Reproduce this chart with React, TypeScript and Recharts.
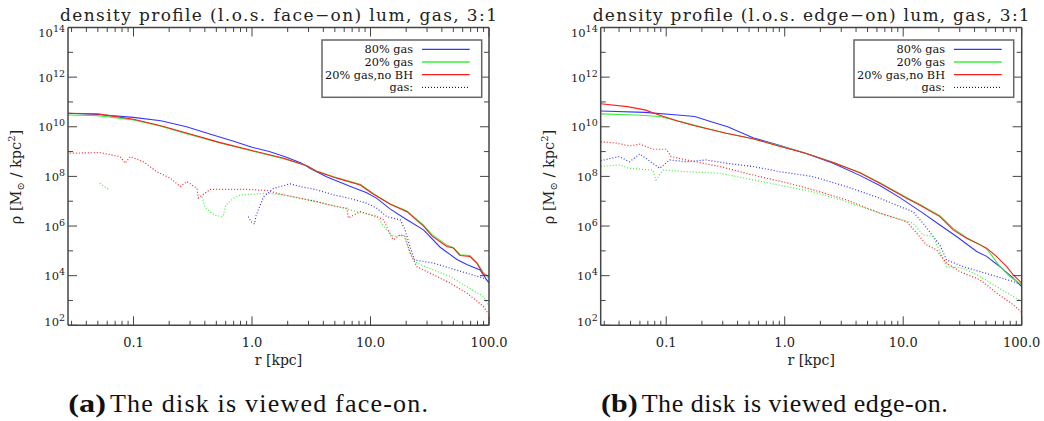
import React from 'react';
import { LineChart, Line, XAxis, YAxis, Legend } from 'recharts';

type P = [number, number | null];

// ---------- colours / fonts ----------
const BLUE = '#3535ff';
const GREEN = '#3cf03c';
const RED = '#ff1e1e';
const AXIS = '#454545';
const FONT = '"DejaVu Serif", serif';
const CAPFONT = '"Liberation Serif", "Times New Roman", serif';

// ---------- axes ----------
const rDomain: [number, number] = [0.028, 100];
const rhoDomain: [number, number] = [1e2, 1e14];
const rTicks = [
  0.03, 0.04, 0.05, 0.06, 0.07, 0.08, 0.09, 0.1,
  0.2, 0.3, 0.4, 0.5, 0.6, 0.7, 0.8, 0.9, 1,
  2, 3, 4, 5, 6, 7, 8, 9, 10,
  20, 30, 40, 50, 60, 70, 80, 90, 100,
];
const rhoTicks = [1e2, 1e3, 1e4, 1e5, 1e6, 1e7, 1e8, 1e9, 1e10, 1e11, 1e12, 1e13, 1e14];

// ---------- texts ----------
const titles = [
  'density profile (l.o.s. face\u2212on) lum, gas, 3:1',
  'density profile (l.o.s. edge\u2212on) lum, gas, 3:1',
];
const captionTags = ['(a)', '(b)'];
const captionTexts = ['The disk is viewed face-on.', 'The disk is viewed edge-on.'];
const xLabel = 'r [kpc]';
const legendLabels = ['80% gas', '20% gas', '20% gas,no BH', 'gas:'];
const legendColors = [BLUE, GREEN, RED, '#000000'];
const legendDashed = [false, false, false, true];

// ---------- face-on data (r [kpc], rho [Msun/kpc^2]) ----------
const faceStars80: P[] = [
  [0.028, 3.5e10], [0.05, 3.1e10], [0.1, 2.4e10], [0.17, 1.75e10], [0.28, 1.0e10], [0.42, 5.5e9],
  [0.7, 2.6e9], [1.0, 1.5e9], [1.4, 1.0e9], [1.9, 6.2e8], [2.6, 3.5e8], [3.1, 2.1e8], [4.3, 9.5e7],
  [6.7, 4.0e7], [9.3, 2.2e7], [11.3, 1.3e7], [14.7, 4.8e6], [20.3, 1.8e6], [28, 7.0e5], [38.7, 1.4e5],
  [53.6, 4.5e4], [65, 2.8e4], [84, 1.7e4], [100, 5.0e3],
];
const faceStars20: P[] = [
  [0.028, 3.0e10], [0.05, 2.8e10], [0.1, 1.9e10], [0.17, 1.05e10], [0.28, 5.3e9], [0.54, 2.2e9],
  [1.0, 1.05e9], [1.85, 5.2e8], [2.9, 2.7e8], [3.5, 1.65e8], [5.2, 8.8e7], [8.2, 4.8e7], [10.6, 2.0e7],
  [14.7, 7.8e6], [20.3, 4.0e6], [28, 1.1e6], [33, 4.5e5], [44, 1.7e5], [50, 1.35e5], [57, 7.0e4],
  [69, 6.5e4], [79, 3.4e4], [90, 1.3e4], [100, 8.0e3],
];
const faceStars20NoBH: P[] = [
  [0.028, 3.5e10], [0.05, 3.3e10], [0.1, 2.0e10], [0.17, 1.1e10], [0.28, 5.6e9], [0.54, 2.3e9],
  [1.0, 1.1e9], [1.85, 5.4e8], [2.9, 2.7e8], [3.5, 1.6e8], [5.2, 8.5e7], [8.2, 4.5e7], [10.6, 1.9e7],
  [14.7, 7.5e6], [20.3, 3.8e6], [28, 1.0e6], [33, 4.0e5], [44, 1.5e5], [50, 1.3e5], [57, 6.5e4],
  [69, 5.9e4], [79, 3.2e4], [90, 1.1e4], [100, 9.8e3],
];
const faceGas80: P[] = [
  [0.93, 2.4e6], [0.98, 1.5e6], [1.05, 1.2e6], [1.08, 2.5e6], [1.14, 5.0e6], [1.25, 1.5e7],
  [1.52, 3.3e7], [2.1, 5.0e7], [2.55, 3.9e7], [3.5, 2.9e7], [4.9, 1.8e7], [6.7, 1.3e7], [9.3, 8.3e6],
  [11.3, 5.2e6], [13.7, 2.4e6], [17.8, 1.77e6], [19.6, 7.0e5], [21.6, 1.4e5], [23.5, 4.3e4],
  [34, 3.2e4], [47, 2.0e4], [65, 1.26e4], [90, 7.9e3], [100, 5.8e3],
];
const faceGas20: P[] = [
  [0.052, 5.3e7], [0.056, 4.0e7], [0.062, 3.0e7], [0.2, null],
  [0.378, 1.5e7], [0.4, 6.0e6], [0.45, 3.5e6], [0.5, 2.6e6], [0.57, 2.4e6], [0.6, 7.0e6],
  [0.7, 1.3e7], [0.8, 1.8e7], [1.34, 2.1e7], [1.85, 1.8e7], [3.5, 9.6e6], [6.7, 4.5e6],
  [11.3, 2.4e6], [13.7, 7.0e5], [15.6, 3.8e5], [19, 4.4e5], [21.6, 8.1e4], [24.6, 3.2e4],
  [34, 1.7e4], [47, 9.2e3], [65, 3.6e3], [90, 1.44e3], [100, 5.7e2],
];
const faceGas20NoBH: P[] = [
  [0.029, 8.6e8], [0.052, 9.1e8], [0.077, 6.3e8], [0.085, 3.4e8], [0.094, 6.3e8], [0.121, 3.9e8],
  [0.157, 1.56e8], [0.204, 8.5e7], [0.248, 3.9e7], [0.282, 6.2e7], [0.343, 3.3e7], [0.352, 1.35e7],
  [0.444, 3.0e7], [0.614, 3.0e7], [0.905, 3.0e7], [1.34, 2.7e7], [1.85, 1.8e7], [2.55, 1.32e7],
  [3.53, 9.6e6], [4.87, 6.5e6], [6.32, 5.2e6], [6.49, 2.1e6], [8.19, 3.8e6], [11.3, 2.4e6],
  [12.9, 1.77e6], [14.7, 4.4e5], [15.6, 2.8e5], [17.8, 4.4e5], [19.6, 3.8e5], [21.6, 8.1e4],
  [24.6, 2.3e4], [34, 1.08e4], [47, 5.0e3], [65, 2.0e3], [90, 5.7e2], [100, 2.6e2],
];

// ---------- edge-on data ----------
const edgeStars80: P[] = [
  [0.028, 4.3e10], [0.066, 3.8e10], [0.125, 3.0e10], [0.174, 2.6e10], [0.24, 1.6e10], [0.33, 1.0e10],
  [0.54, 3.6e9], [0.9, 1.8e9], [1.5, 8.6e8], [2.56, 3.4e8], [4.3, 1.1e8], [6.35, 4.3e7],
  [9.37, 1.4e7], [14.7, 3.3e6], [20.4, 1.1e6], [28.2, 3.8e5], [41.7, 9.4e4], [50.6, 6.0e4],
  [65.6, 2.3e4], [84.9, 7.9e3], [100, 3.6e3],
];
const edgeStars20: P[] = [
  [0.028, 3.3e10], [0.056, 3.0e10], [0.088, 2.6e10], [0.148, 1.4e10], [0.218, 8.7e9], [0.321, 5.5e9],
  [0.54, 3.3e9], [0.9, 1.7e9], [1.5, 8.5e8], [2.56, 3.7e8], [4.3, 1.45e8], [6.35, 5.5e7],
  [10.7, 1.4e7], [13.8, 7.3e6], [20.4, 2.6e6], [26.4, 8.0e5], [34.3, 3.4e5], [44.5, 1.8e5],
  [50.6, 1.2e5], [54, 8.1e4], [65.6, 2.3e4], [79.6, 9.2e3], [100, 4.3e3],
];
const edgeStars20NoBH: P[] = [
  [0.028, 8.5e10], [0.047, 6.5e10], [0.066, 4.8e10], [0.091, 2.8e10], [0.125, 1.7e10], [0.174, 1.1e10],
  [0.24, 7.6e9], [0.321, 5.5e9], [0.54, 3.3e9], [0.9, 1.65e9], [1.5, 8.5e8], [2.56, 3.6e8],
  [4.3, 1.4e8], [6.35, 5.3e7], [10.7, 1.32e7], [13.8, 7.1e6], [20.4, 2.4e6], [26.4, 7.0e5],
  [34.3, 3.2e5], [44.5, 1.74e5], [50.6, 1.28e5], [61.5, 5.9e4], [74.7, 2.3e4], [84.9, 1.08e4],
  [100, 5.0e3],
];
const edgeGas80: P[] = [
  [0.028, 4.3e8], [0.04, 6.3e8], [0.049, 3.9e8], [0.06, 8.0e8], [0.077, 3.4e8], [0.088, 2.1e8],
  [0.107, 4.6e8], [0.148, 3.9e8], [0.218, 4.6e8], [0.321, 3.4e8], [0.54, 2.5e8], [0.906, 1.56e8],
  [1.73, 9.8e7], [3.32, 3.9e7], [6.35, 1.32e7], [9.37, 6.1e6], [12.1, 3.8e6], [14.7, 1.3e6],
  [17.9, 3.8e5], [20.4, 1.74e5], [23.2, 4.3e4], [32.1, 2.3e4], [44.5, 1.46e4], [61.5, 9.2e3],
  [84.9, 5.8e3], [100, 4.3e3],
];
const edgeGas20: P[] = [
  [0.028, 2.5e8], [0.04, 2.9e8], [0.049, 2.1e8], [0.077, 1.8e8], [0.082, 7.2e7], [0.094, 1.8e8],
  [0.148, 1.56e8], [0.282, 1.34e8], [0.54, 7.2e7], [1.03, 3.9e7], [1.73, 2.4e7], [3.32, 9.6e6],
  [6.35, 3.3e6], [12.1, 1.3e6], [14.7, 4.4e5], [17.9, 3.8e5], [20.4, 9.4e4], [23.2, 2.3e4],
  [32.1, 2.0e4], [44.5, 9.2e3], [61.5, 3.6e3], [84.9, 1.44e3], [100, 9.1e2],
];
const edgeGas20NoBH: P[] = [
  [0.028, 2.5e9], [0.038, 2.2e9], [0.049, 1.7e9], [0.06, 2.0e9], [0.077, 1.24e9], [0.1, 1.24e9],
  [0.11, 6.3e8], [0.148, 4.6e8], [0.204, 3.4e8], [0.282, 2.5e8], [0.416, 1.56e8], [0.614, 9.8e7],
  [1.03, 5.6e7], [1.73, 2.9e7], [3.32, 1.13e7], [6.35, 3.3e6], [10.7, 1.5e6], [13, 5.2e5],
  [15.7, 1.74e5], [19.1, 1.09e5], [23.2, 3.2e4], [30.1, 1.46e4], [44.5, 6.8e3], [61.5, 2.0e3],
  [84.9, 6.7e2], [100, 3.3e2],
];

type Series = { name: string; color: string; dashed: boolean; pts: P[] };

const faceSeries: Series[] = [
  { name: 'gas80', color: BLUE, dashed: true, pts: faceGas80 },
  { name: 'gas20', color: GREEN, dashed: true, pts: faceGas20 },
  { name: 'gas20nobh', color: RED, dashed: true, pts: faceGas20NoBH },
  { name: 'stars80', color: BLUE, dashed: false, pts: faceStars80 },
  { name: 'stars20', color: GREEN, dashed: false, pts: faceStars20 },
  { name: 'stars20nobh', color: RED, dashed: false, pts: faceStars20NoBH },
];
const edgeSeries: Series[] = [
  { name: 'gas80', color: BLUE, dashed: true, pts: edgeGas80 },
  { name: 'gas20', color: GREEN, dashed: true, pts: edgeGas20 },
  { name: 'gas20nobh', color: RED, dashed: true, pts: edgeGas20NoBH },
  { name: 'stars80', color: BLUE, dashed: false, pts: edgeStars80 },
  { name: 'stars20', color: GREEN, dashed: false, pts: edgeStars20 },
  { name: 'stars20nobh', color: RED, dashed: false, pts: edgeStars20NoBH },
];

// ---------- helpers ----------
const isPow10 = (v: number) => Math.abs(Math.log10(v) - Math.round(Math.log10(v))) < 1e-6;
const isEvenPow = (v: number) => Math.round(Math.log10(v)) % 2 === 0;
const rLabel = (v: number) => (v < 1 ? String(v) : v.toFixed(1));

const BottomTick = (p: any) => {
  const { x, y, payload } = p;
  const v = payload.value as number;
  const major = isPow10(v);
  return (
    <g>
      <line x1={x} x2={x} y1={y} y2={y - (major ? 9 : 4.5)} stroke={AXIS} strokeWidth={1} />
      {major && (
        <text x={x} y={y + 22} textAnchor="middle" fontFamily={FONT} fontSize={13} fill="#222">
          {rLabel(v)}
        </text>
      )}
    </g>
  );
};
const TopTick = (p: any) => {
  const { x, y, payload } = p;
  const major = isPow10(payload.value);
  return <line x1={x} x2={x} y1={y} y2={y + (major ? 9 : 4.5)} stroke={AXIS} strokeWidth={1} />;
};
const LeftTick = (p: any) => {
  const { x, y, payload } = p;
  const v = payload.value as number;
  const major = isEvenPow(v);
  const e = Math.round(Math.log10(v));
  const shift = e === 14 ? 5 : e === 2 ? -4.5 : 0;
  return (
    <g>
      <line x1={x} x2={x + (major ? 9 : 5)} y1={y} y2={y} stroke={AXIS} strokeWidth={1} />
      {major && (
        <text x={x - 3} y={y + 4.7 + shift} textAnchor="end" fontFamily={FONT} fontSize={11.5} fill="#222">
          <tspan>10</tspan>
          <tspan dy={-5} fontSize={9.5}>{e}</tspan>
        </text>
      )}
    </g>
  );
};
const RightTick = (p: any) => {
  const { x, y, payload } = p;
  const major = isEvenPow(payload.value);
  return <line x1={x} x2={x - (major ? 9 : 5)} y1={y} y2={y} stroke={AXIS} strokeWidth={1} />;
};

const LegendBox = () => (
  <svg width={162} height={60} style={{ display: 'block' }}>
    <rect x={1} y={1} width={159.7} height={57.3} fill="#fff" stroke="#666" strokeWidth={1.5} />
    {legendLabels.map((lab, i) => {
      const ly = 10.3 + i * 12.7;
      return (
        <g key={lab}>
          <text x={92} y={ly + 4} textAnchor="end" fontFamily={FONT} fontSize={11.3} fill="#111">
            {lab}
          </text>
          <line
            x1={101}
            x2={148.7}
            y1={ly}
            y2={ly}
            stroke={legendColors[i]}
            strokeWidth={legendDashed[i] ? 1 : 1.3}
            strokeDasharray={legendDashed[i] ? '1 2' : undefined}
          />
        </g>
      );
    })}
  </svg>
);

const W = 522;
const H = 380;
const PLOT_TOP = 27.5;
const PLOT_BOTTOM = 325.3;
const PLOT_W = 421;

function Panel({ x0, plotL, series, legendL }: { x0: number; plotL: number; series: Series[]; legendL: number }) {
  const plotR = plotL + PLOT_W;
  const margin = {
    top: PLOT_TOP - 10,
    bottom: H - PLOT_BOTTOM - 30,
    left: plotL - x0 - 60,
    right: W - (plotR - x0) - 10,
  };
  const axisLine = { stroke: AXIS, strokeWidth: 1.5 };
  return (
    <div style={{ position: 'absolute', left: x0, top: 0, width: W, height: H }}>
      <LineChart width={W} height={H} margin={margin}>
        <XAxis
          xAxisId="b"
          dataKey="r"
          type="number"
          scale="log"
          domain={rDomain}
          ticks={rTicks}
          interval={0}
          allowDataOverflow
          height={30}
          tickSize={0}
          tickMargin={0}
          tickLine={false}
          axisLine={axisLine}
          tick={(p: any) => <BottomTick {...p} />}
        />
        <XAxis
          xAxisId="t"
          orientation="top"
          dataKey="r"
          type="number"
          scale="log"
          domain={rDomain}
          ticks={rTicks}
          interval={0}
          allowDataOverflow
          height={10}
          tickSize={0}
          tickMargin={0}
          tickLine={false}
          axisLine={axisLine}
          tick={(p: any) => <TopTick {...p} />}
        />
        <YAxis
          yAxisId="l"
          type="number"
          scale="log"
          domain={rhoDomain}
          ticks={rhoTicks}
          interval={0}
          allowDataOverflow
          width={60}
          tickSize={0}
          tickMargin={0}
          tickLine={false}
          axisLine={axisLine}
          tick={(p: any) => <LeftTick {...p} />}
        />
        <YAxis
          yAxisId="r"
          orientation="right"
          type="number"
          scale="log"
          domain={rhoDomain}
          ticks={rhoTicks}
          interval={0}
          allowDataOverflow
          width={10}
          tickSize={0}
          tickMargin={0}
          tickLine={false}
          axisLine={axisLine}
          tick={(p: any) => <RightTick {...p} />}
        />
        {series.map((s) => (
          <Line
            key={s.name}
            xAxisId="b"
            yAxisId="l"
            data={s.pts.map(([r, v]) => ({ r, v }))}
            dataKey="v"
            type="linear"
            stroke={s.color}
            strokeWidth={s.dashed ? 1.2 : 1.1}
            strokeDasharray={s.dashed ? '1 2' : undefined}
            dot={false}
            activeDot={false}
            connectNulls={false}
            isAnimationActive={false}
          />
        ))}
        <Legend
          layout="vertical"
          align="center"
          verticalAlign="middle"
          content={() => <LegendBox />}
          wrapperStyle={{ position: 'absolute', left: legendL - x0 - 1, top: 39, width: 162, height: 60, margin: 0 }}
        />
      </LineChart>
    </div>
  );
}

const panels = [
  { x0: 0, plotL: 68, legendL: 322.3, series: faceSeries },
  { x0: 522, plotL: 600.7, legendL: 854.3, series: edgeSeries },
];

export default function App() {
  return (
    <div style={{ position: 'absolute', left: 0, top: 0, width: 1044, height: 421, overflow: 'hidden', background: '#fff' }}>
      {panels.map((p, i) => (
        <Panel key={i} x0={p.x0} plotL={p.plotL} series={p.series} legendL={p.legendL} />
      ))}
      <svg width={1044} height={421} style={{ position: 'absolute', left: 0, top: 0, pointerEvents: 'none' }}>
        {panels.map((p, i) => {
          const cx = p.plotL + PLOT_W / 2;
          const yl = p.plotL - 47;
          return (
            <g key={i}>
              <text x={cx} y={20.5} textAnchor="middle" fontFamily={FONT} fontSize={17} fill="#222"
                textLength={437} lengthAdjust="spacing">
                {titles[i]}
              </text>
              <text x={cx} y={365} textAnchor="middle" fontFamily={FONT} fontSize={14} fill="#222">
                {xLabel}
              </text>
              <text x={yl} y={177} textAnchor="middle" fontFamily={FONT} fontSize={14.5} fill="#222"
                transform={`rotate(-90 ${yl} 177)`}>
                <tspan>{'\u03C1 [M'}</tspan>
                <tspan fontSize={10} dy={3}>{'\u2299'}</tspan>
                <tspan dy={-3}>{' / kpc'}</tspan>
                <tspan fontSize={10} dy={-6}>2</tspan>
                <tspan dy={6}>]</tspan>
              </text>
              <text x={p.plotL + 0.3} y={412} fontFamily={CAPFONT} fontWeight="bold" fontSize={26} fill="#111"
                textLength={i === 0 ? 37.7 : 36.7} lengthAdjust="spacingAndGlyphs">
                {captionTags[i]}
              </text>
              <text x={p.plotL + (i === 0 ? 42 : 41)} y={412} fontFamily={CAPFONT} fontSize={26} fill="#111"
                textLength={i === 0 ? 318 : 306} lengthAdjust="spacing">
                {captionTexts[i]}
              </text>
            </g>
          );
        })}
      </svg>
    </div>
  );
}
